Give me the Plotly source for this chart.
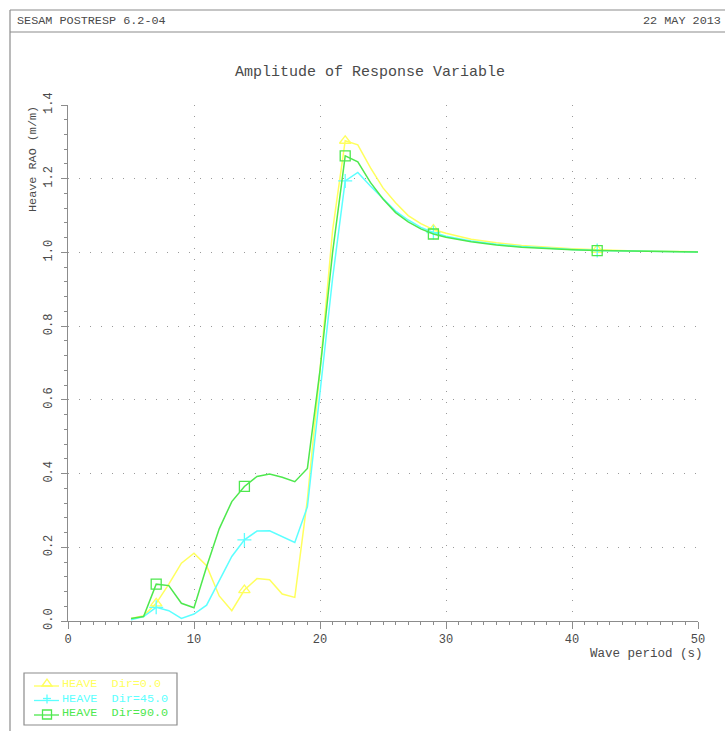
import plotly.graph_objects as go

# ---------------- data ----------------
periods = [5, 6, 7, 8, 9, 10, 11, 12, 13, 14, 15, 16, 17, 18, 19, 20, 21, 22, 23,
           24, 25, 26, 27, 28, 29, 30, 32, 34, 36, 38, 40, 42, 45, 50]

heave_dir0 = [0.007, 0.014, 0.048, 0.100, 0.157, 0.184, 0.150, 0.068, 0.028, 0.084,
              0.115, 0.112, 0.073, 0.064, 0.330, 0.680, 1.060, 1.303, 1.292,
              1.230, 1.175, 1.135, 1.100, 1.078, 1.062, 1.052, 1.036, 1.026, 1.019,
              1.014, 1.010, 1.007, 1.004, 1.002]

heave_dir45 = [0.003, 0.012, 0.037, 0.028, 0.007, 0.019, 0.043, 0.111, 0.175, 0.220,
               0.244, 0.245, 0.229, 0.213, 0.310, 0.620, 0.930, 1.194, 1.217,
               1.180, 1.145, 1.112, 1.088, 1.068, 1.054, 1.044, 1.031, 1.022, 1.016,
               1.011, 1.008, 1.005, 1.003, 1.001]

heave_dir90 = [0.007, 0.012, 0.100, 0.096, 0.048, 0.036, 0.147, 0.250, 0.324, 0.365,
               0.392, 0.399, 0.390, 0.378, 0.414, 0.680, 1.000, 1.262, 1.246,
               1.190, 1.145, 1.108, 1.083, 1.064, 1.050, 1.041, 1.029, 1.020, 1.014,
               1.010, 1.007, 1.005, 1.003, 1.001]

marker_periods = [7, 14, 22, 29, 42]

series_names = ["HEAVE  Dir=0.0", "HEAVE  Dir=45.0", "HEAVE  Dir=90.0"]
x_ticks = [0, 10, 20, 30, 40, 50]
y_ticks = [0.0, 0.2, 0.4, 0.6, 0.8, 1.0, 1.2, 1.4]
y_tick_labels = ["0.0", "0.2", "0.4", "0.6", "0.8", "1.0", "1.2", "1.4"]

# ---------------- style ----------------
FONT = "Liberation Mono"
TXT = "#4a4a4a"
FRAME = "#8c8c8c"
colors = ["#ffff5e", "#5cffff", "#4ee84e"]
symbols = ["triangle-up-open", "cross-thin-open", "square-open"]

W, H = 725, 731
L, R, T, B = 68, 27, 105, 110
PW, PH = W - L - R, H - T - B


def px(x):
    return (x - L) / PW


def py(y):
    return (H - B - y) / PH


fig = go.Figure()
all_series = [heave_dir0, heave_dir45, heave_dir90]
for vals, col, sym, name in zip(all_series, colors, symbols, series_names):
    fig.add_trace(go.Scatter(x=periods, y=vals, mode="lines", name=name,
                             line=dict(color=col, width=1.5), showlegend=False,
                             hoverinfo="x+y"))
    mx = [p for p in marker_periods]
    my = [vals[periods.index(p)] for p in marker_periods]
    fig.add_trace(go.Scatter(x=mx, y=my, mode="markers", showlegend=False,
                             marker=dict(symbol=sym, size=10, color=col,
                                         line=dict(color=col, width=1.3))))

grid = dict(showgrid=True, gridcolor="#9a9a9a", gridwidth=1, griddash="1px,10px")

fig.update_xaxes(range=[0, 50], tickvals=x_ticks, ticktext=[str(t) for t in x_ticks],
                 showline=True, linecolor=FRAME, linewidth=1, zeroline=False,
                 ticks="outside", ticklen=7, tickcolor=FRAME, tickwidth=1,
                 tickfont=dict(family=FONT, size=12, color=TXT),
                 minor=dict(dtick=1, ticks="outside", ticklen=3, tickcolor=FRAME,
                            showgrid=False),
                 **grid)
fig.update_yaxes(range=[0, 1.4], tickvals=y_ticks, ticktext=y_tick_labels,
                 tickangle=-90,
                 showline=True, linecolor=FRAME, linewidth=1, zeroline=False,
                 ticks="outside", ticklen=6, tickcolor=FRAME, tickwidth=1,
                 ticklabelstandoff=4,
                 tickfont=dict(family=FONT, size=12, color=TXT),
                 minor=dict(dtick=0.04, ticks="outside", ticklen=3, tickcolor=FRAME,
                            showgrid=False),
                 **grid)

shapes = []
# frame: top line, header separator, left line
shapes.append(dict(type="line", xref="paper", yref="paper", x0=px(10), x1=px(W + 5),
                   y0=py(10), y1=py(10), line=dict(color=FRAME, width=1.2)))
shapes.append(dict(type="line", xref="paper", yref="paper", x0=px(10), x1=px(W + 5),
                   y0=py(32), y1=py(32), line=dict(color=FRAME, width=1.2)))
shapes.append(dict(type="line", xref="paper", yref="paper", x0=px(10), x1=px(10),
                   y0=py(10), y1=py(H + 5), line=dict(color=FRAME, width=1.2)))
# legend box
shapes.append(dict(type="rect", xref="paper", yref="paper", x0=px(24), x1=px(177),
                   y0=py(673), y1=py(725), line=dict(color=FRAME, width=1.2),
                   fillcolor="rgba(0,0,0,0)"))

annotations = [
    dict(text="SESAM POSTRESP 6.2-04", x=px(15), y=py(21), xref="paper", yref="paper",
         xanchor="left", yanchor="middle", showarrow=False,
         font=dict(family=FONT, size=11.8, color=TXT)),
    dict(text="22 MAY 2013", x=px(723), y=py(21), xref="paper", yref="paper",
         xanchor="right", yanchor="middle", showarrow=False,
         font=dict(family=FONT, size=11.8, color=TXT)),
    dict(text="Amplitude of Response Variable", x=px(370), y=py(72), xref="paper",
         yref="paper", xanchor="center", yanchor="middle", showarrow=False,
         font=dict(family=FONT, size=15, color=TXT)),
    dict(text="Wave period (s)", x=px(705), y=py(654), xref="paper", yref="paper",
         xanchor="right", yanchor="middle", showarrow=False,
         font=dict(family=FONT, size=12.5, color=TXT)),
    dict(text="Heave RAO (m/m)", x=px(33), y=py(104), xref="paper", yref="paper",
         xanchor="center", yanchor="top", textangle=-90, showarrow=False,
         font=dict(family=FONT, size=11.8, color=TXT)),
]

# manual legend
rows = [684, 698.5, 713]
for i, (col, name, yy) in enumerate(zip(colors, series_names, rows)):
    shapes.append(dict(type="line", xref="paper", yref="paper", x0=px(34), x1=px(59),
                       y0=py(yy + 2), y1=py(yy + 2), line=dict(color=col, width=1.3)))
    cx, cy = 47, yy + 2
    if i == 0:
        path = "M {} {} L {} {} L {} {} Z".format(px(cx - 5), py(cy), px(cx), py(cy - 7),
                                                  px(cx + 5), py(cy))
        shapes.append(dict(type="path", xref="paper", yref="paper", path=path,
                           line=dict(color=col, width=1.3)))
    elif i == 1:
        shapes.append(dict(type="line", xref="paper", yref="paper", x0=px(cx), x1=px(cx),
                           y0=py(cy - 6), y1=py(cy + 3), line=dict(color=col, width=1.3)))
        shapes.append(dict(type="line", xref="paper", yref="paper", x0=px(cx - 4),
                           x1=px(cx + 4), y0=py(cy - 2), y1=py(cy - 2),
                           line=dict(color=col, width=1.3)))
    else:
        shapes.append(dict(type="rect", xref="paper", yref="paper", x0=px(cx - 4.5),
                           x1=px(cx + 4.5), y0=py(cy - 5), y1=py(cy + 4),
                           line=dict(color=col, width=1.3)))
    annotations.append(dict(text=name, x=px(60), y=py(yy), xref="paper", yref="paper",
                            xanchor="left", yanchor="middle", showarrow=False,
                            font=dict(family=FONT, size=11.8, color=col)))

fig.update_layout(width=W, height=H, margin=dict(l=L, r=R, t=T, b=B),
                  paper_bgcolor="white", plot_bgcolor="white",
                  shapes=shapes, annotations=annotations, showlegend=False)

fig.write_html("out.html")
